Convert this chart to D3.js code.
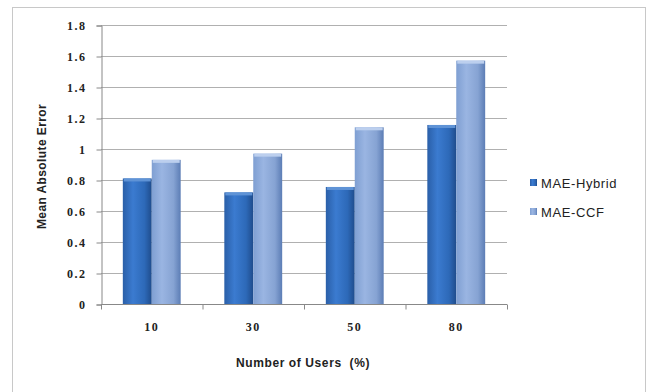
<!DOCTYPE html>
<html>
<head>
<meta charset="UTF-8">
<title>Mean Absolute Error</title>
<script src="https://cdn.jsdelivr.net/npm/d3@7"></script>
<style>
body { margin:0; background:#fff; }
svg text { font-family: "Liberation Sans", Arial, sans-serif; fill:#222; }
.grid line { stroke:#b0b0b0; stroke-width:1; }
.axis path, .axis line { stroke:#888; }
.tick text { font-family: "Liberation Serif", serif; }
</style>
</head>
<body>
<svg width="649" height="392"></svg>
<script>
var categories = ["10", "30", "50", "80"];
var series = ["MAE-Hybrid", "MAE-CCF"];
var hybrid = [0.81, 0.72, 0.755, 1.155];
var ccf = [0.93, 0.97, 1.14, 1.57];
var yTicks = [0, 0.2, 0.4, 0.6, 0.8, 1, 1.2, 1.4, 1.6, 1.8];

var svg = d3.select("svg");
var m = {left: 101, right: 507, top: 25, bottom: 304};

// chart frame
svg.append("rect").attr("x", 12.5).attr("y", 7.5).attr("width", 633).attr("height", 390)
  .attr("fill", "#fff").attr("stroke", "#c8c8c8");

var x = d3.scaleBand().domain(categories).range([m.left, m.right]).paddingInner(0.43).paddingOuter(0.215);
var x1 = d3.scaleBand().domain(series).range([0, x.bandwidth()]);
var y = d3.scaleLinear().domain([0, 1.8]).range([m.bottom, m.top]);

var defs = svg.append("defs");
function grad(id, stops) {
  var g = defs.append("linearGradient").attr("id", id).attr("x1", 0).attr("x2", 1).attr("y1", 0).attr("y2", 0);
  stops.forEach(function(s) { g.append("stop").attr("offset", s[0]).attr("stop-color", s[1]); });
}
grad("gH", [[0, "#2a5fa8"], [0.35, "#3b7bd0"], [0.75, "#2d69b8"], [1, "#1f4c8c"]]);
grad("gC", [[0, "#7f9fd2"], [0.35, "#9ab5e2"], [0.75, "#86a3d3"], [1, "#5c7db5"]]);
var fills = {"MAE-Hybrid": "url(#gH)", "MAE-CCF": "url(#gC)"};
var caps = {"MAE-Hybrid": "#5f93d6", "MAE-CCF": "#bccfee"};

// gridlines
svg.append("g").attr("class", "grid")
  .selectAll("line").data(yTicks.slice(1)).enter().append("line")
  .attr("x1", m.left).attr("x2", m.right)
  .attr("y1", function(d) { return Math.round(y(d)) + 0.5; })
  .attr("y2", function(d) { return Math.round(y(d)) + 0.5; });

// y axis
var ya = svg.append("g").attr("class", "axis").attr("transform", "translate(" + (m.left + 0.5) + ",0.5)")
  .call(d3.axisLeft(y).tickValues(yTicks).tickSize(5).tickPadding(10).tickFormat(function(d) { return d; }));
ya.selectAll("text").style("font-size", "12px").style("font-weight", "bold")
  .style("letter-spacing", "1.5px").attr("fill", "#333");

// x axis
var xa = svg.append("g").attr("class", "axis").attr("transform", "translate(0," + (m.bottom + 0.5) + ")")
  .call(d3.axisBottom(x).tickSize(0).tickPadding(18));
xa.selectAll("text").style("font-size", "12px").style("font-weight", "bold")
  .style("letter-spacing", "1.5px").attr("fill", "#333");
xa.select(".domain").attr("d", "M" + m.left + ",0H" + m.right);
var step = x.step();
xa.selectAll(".sep").data(d3.range(5)).enter().append("line")
  .attr("x1", function(i) { return m.left + i * step + 0.5; })
  .attr("x2", function(i) { return m.left + i * step + 0.5; })
  .attr("y1", 0).attr("y2", 5).attr("stroke", "#888");

// bars
var rows = categories.map(function(c, i) { return {cat: c, vals: [{s: series[0], v: hybrid[i]}, {s: series[1], v: ccf[i]}]}; });
var g = svg.selectAll(".grp").data(rows).enter().append("g")
  .attr("transform", function(d) { return "translate(" + x(d.cat) + ",0)"; });
var b = g.selectAll("g").data(function(d) { return d.vals; }).enter().append("g");
b.append("rect")
  .attr("x", function(d) { return x1(d.s); })
  .attr("y", function(d) { return y(d.v); })
  .attr("width", x1.bandwidth())
  .attr("height", function(d) { return y(0) - y(d.v); })
  .attr("fill", function(d) { return fills[d.s]; });
b.append("rect")
  .attr("x", function(d) { return x1(d.s) + 1; })
  .attr("y", function(d) { return y(d.v); })
  .attr("width", x1.bandwidth() - 2)
  .attr("height", 3)
  .attr("fill", function(d) { return caps[d.s]; });

// axis titles
svg.append("text").attr("transform", "translate(46," + ((m.top + m.bottom) / 2 + 2) + ") rotate(-90)")
  .attr("text-anchor", "middle").style("font-size", "12px").style("font-weight", "bold")
  .style("letter-spacing", "0.4px")
  .text("Mean Absolute Error");
svg.append("text").attr("x", 303).attr("y", 367).attr("text-anchor", "middle")
  .style("font-size", "12px").style("font-weight", "bold").style("letter-spacing", "0.6px")
  .attr("xml:space", "preserve")
  .text("Number of Users  (%)");

// legend
var lg = svg.selectAll(".lg").data(series).enter().append("g")
  .attr("transform", function(d, i) { return "translate(530," + (183 + i * 29) + ")"; });
lg.append("rect").attr("x", 0).attr("y", -4).attr("width", 7).attr("height", 7)
  .attr("fill", function(d) { return fills[d]; });
lg.append("text").attr("x", 11).attr("y", 4.5).style("font-size", "13px")
  .style("letter-spacing", "0.6px").attr("fill", "#333")
  .text(function(d) { return d; });
</script>
</body>
</html>
